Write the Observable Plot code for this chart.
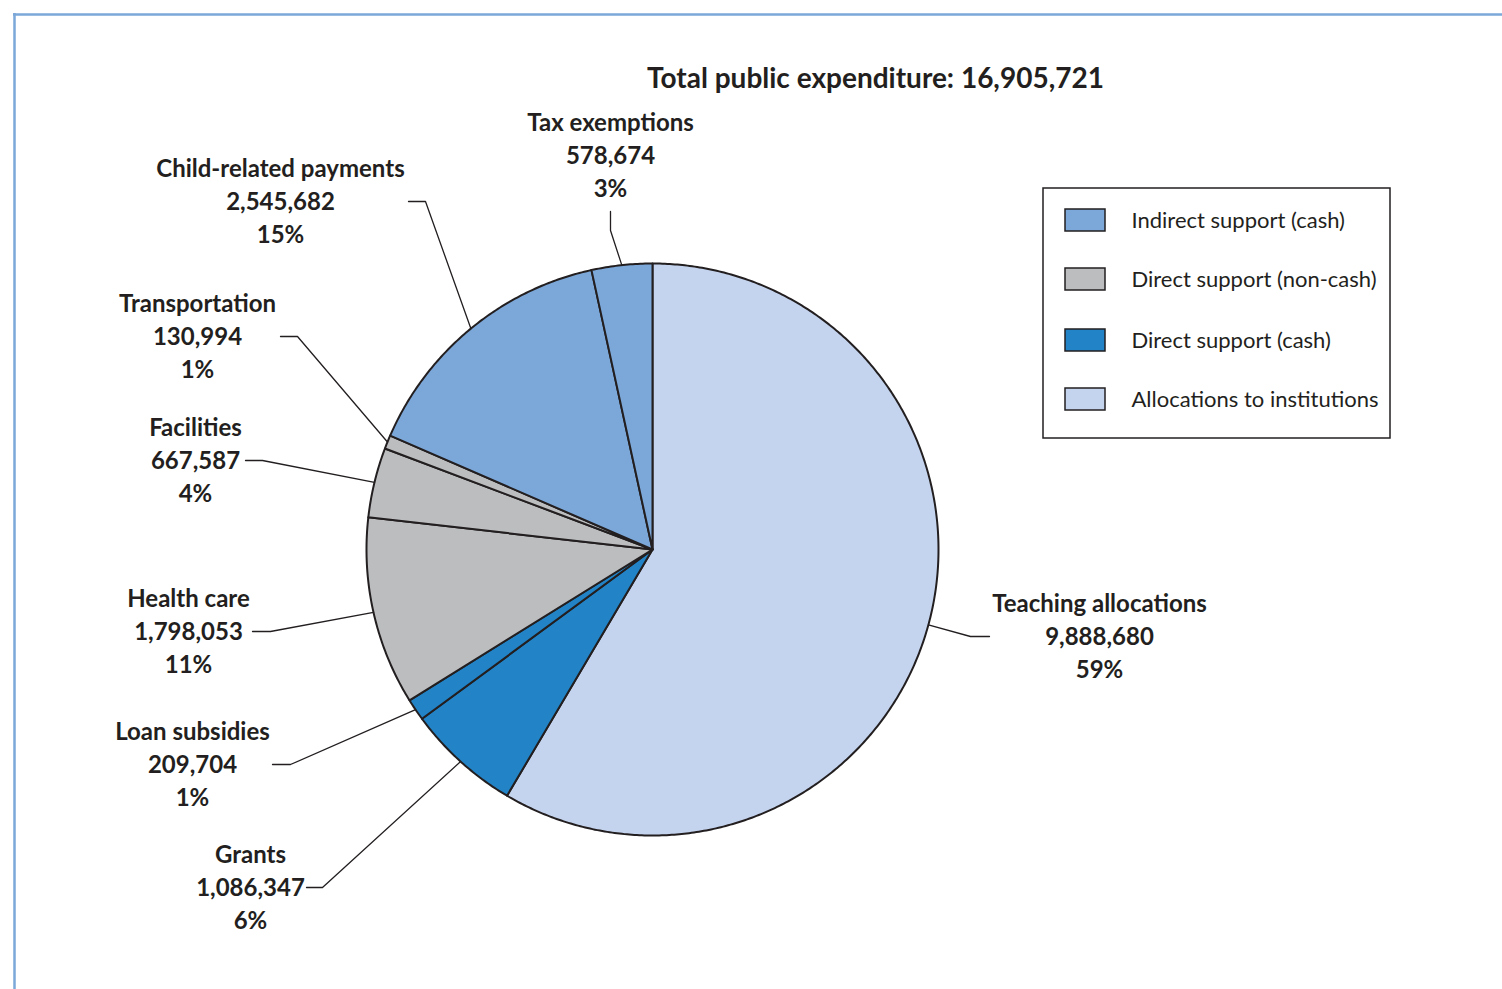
<!DOCTYPE html>
<html>
<head>
<meta charset="utf-8">
<script src="https://cdn.jsdelivr.net/npm/d3@7"></script>
<script src="https://cdn.jsdelivr.net/npm/@observablehq/plot@0.6"></script>
<style>
  html, body { margin: 0; padding: 0; background: #ffffff; }
  #chart svg { display: block; }
</style>
</head>
<body>
<div id="chart"></div>
<script>
// ---------- data ----------
const categories = ["Teaching allocations", "Grants", "Loan subsidies", "Health care", "Facilities", "Transportation", "Child-related payments", "Tax exemptions"];
const values = [9888680, 1086347, 209704, 1798053, 667587, 130994, 2545682, 578674];
const percentLabels = ["59%", "6%", "1%", "11%", "4%", "1%", "15%", "3%"];
const groups = ["Allocations to institutions", "Direct support (cash)", "Direct support (cash)", "Direct support (non-cash)", "Direct support (non-cash)", "Direct support (non-cash)", "Indirect support (cash)", "Indirect support (cash)"];
const legendOrder = ["Indirect support (cash)", "Direct support (non-cash)", "Direct support (cash)", "Allocations to institutions"];
const groupColors = ["#7BA7D9", "#BCBDBF", "#2283C6", "#C5D4EE"];
const titleText = "Total public expenditure: 16,905,721";

// ---------- layout (pixels) ----------
const W = 1502, H = 989;
const cx = 652, cy = 549, R = 286;
// label block centre and leader elbow: [labelX, labelY, startX, startY, elbowX, elbowY]
const labelLayout = [
  [1099, 636, 989, 636, 970, 636],
  [250, 887, 306, 887, 322, 887],
  [192, 764, 272, 764, 290, 764],
  [188, 631, 252, 631, 270, 631],
  [195, 460, 245, 460, 262, 460],
  [197, 336, 280, 336, 297, 336],
  [280, 201, 408, 201, 425, 201],
  [610, 155, 610, 211, 610, 230]
];
const ink = "#231F20";
const font = "Lato, 'Open Sans', sans-serif";

// ---------- build slices ----------
const total = d3.sum(values);
const fmt = d3.format(",");
const polys = [];
const leaders = [];
const labels = [];
let acc = 0;
categories.forEach((c, i) => {
  const a0 = acc / total * 2 * Math.PI;
  acc += values[i];
  const a1 = acc / total * 2 * Math.PI;
  const pt = a => [cx + R * Math.sin(a), cy - R * Math.cos(a)];
  polys.push({name: c, group: groups[i], x: cx, y: cy, k: 0});
  const n = Math.max(2, Math.ceil((a1 - a0) / (Math.PI / 360)));
  for (let j = 0; j <= n; j++) {
    const [x, y] = pt(a0 + (a1 - a0) * j / n);
    polys.push({name: c, group: groups[i], x, y, k: j + 1});
  }
  polys.push({name: c, group: groups[i], x: cx, y: cy, k: n + 2});
  const [ex, ey] = pt((a0 + a1) / 2);
  const L = labelLayout[i];
  leaders.push({name: c, x: L[2], y: L[3]});
  leaders.push({name: c, x: L[4], y: L[5]});
  leaders.push({name: c, x: ex, y: ey});
  labels.push({name: c, x: L[0], y: L[1], text: `${c}\n${fmt(values[i])}\n${percentLabels[i]}`});
});

// legend rows
const legendRows = legendOrder.map((g, i) => ({group: g, i}));
const legX0 = 1043, legX1 = 1390, legY0 = 188, legY1 = 438;
const rowY = [220, 279, 340, 399];

const plot = Plot.plot({
  width: W,
  height: H,
  margin: 0,
  x: {domain: [0, W], range: [0, W], axis: null},
  y: {domain: [0, H], range: [0, H], axis: null},
  color: {domain: legendOrder, range: groupColors},
  style: {fontFamily: font, color: ink, background: "#ffffff"},
  marks: [
    // frame lines of the panel
    Plot.ruleY([14], {x1: 13, x2: W, stroke: "#7BA7D9", strokeWidth: 2.5}),
    Plot.ruleX([14], {y1: 13, y2: H, stroke: "#7BA7D9", strokeWidth: 2.5}),
    // slices
    Plot.line(polys, {x: "x", y: "y", z: "name", fill: "group", stroke: ink, strokeWidth: 2, strokeLinejoin: "round", curve: "linear"}),
    // leader lines
    Plot.line(leaders, {x: "x", y: "y", z: "name", stroke: ink, strokeWidth: 1.3}),
    // labels
    Plot.text(labels, {x: "x", y: "y", text: "text", fontSize: 24, fontWeight: "bold", lineHeight: 1.375, lineAnchor: "middle", textAnchor: "middle", dy: -2, letterSpacing: "-0.2px", fill: ink}),
    // title
    Plot.text([titleText], {x: 875, y: 78, text: d => d, fontSize: 28, fontWeight: "bold", textAnchor: "middle", dy: 1, fill: ink}),
    // legend box
    Plot.rect([0], {x1: legX0, x2: legX1, y1: legY0, y2: legY1, fill: "none", stroke: ink, strokeWidth: 1.5}),
    Plot.rect(legendRows, {x1: 1065, x2: 1105, y1: d => rowY[d.i] - 11, y2: d => rowY[d.i] + 11, fill: "group", stroke: ink, strokeWidth: 1.5}),
    Plot.text(legendRows, {x: 1131, y: d => rowY[d.i], text: "group", textAnchor: "start", fontSize: 22, fill: ink})
  ]
});
document.getElementById("chart").appendChild(plot);
</script>
</body>
</html>
